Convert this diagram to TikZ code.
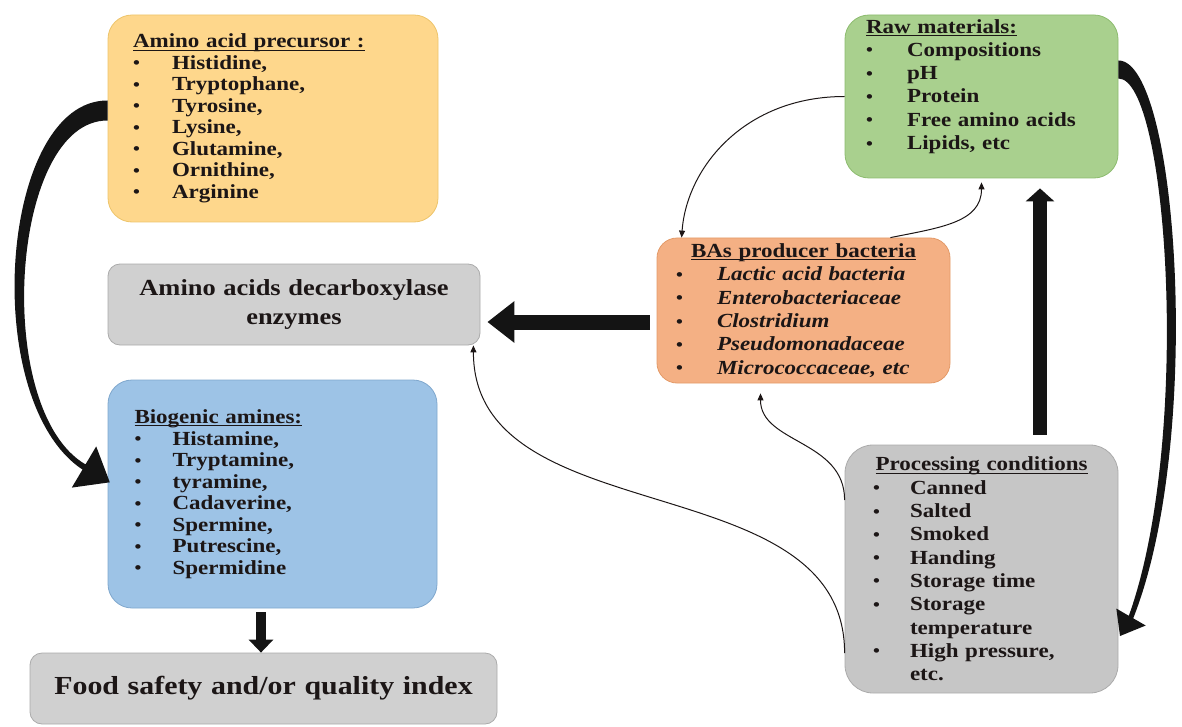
\documentclass[tikz,border=0pt]{standalone}
\usepackage{fontspec}
\setmainfont{Liberation Serif}[FakeStretch=1.15]
\usetikzlibrary{arrows.meta,calc,positioning}

\definecolor{precfill}{HTML}{FED78C}
\definecolor{precdraw}{HTML}{EDC46A}
\definecolor{rawfill}{HTML}{A9D08E}
\definecolor{rawdraw}{HTML}{8CBB6E}
\definecolor{bactfill}{HTML}{F4B084}
\definecolor{bactdraw}{HTML}{E39A68}
\definecolor{aminefill}{HTML}{9DC3E6}
\definecolor{aminedraw}{HTML}{7FA7CD}
\definecolor{greyfill}{HTML}{D0D0D0}
\definecolor{greydraw}{HTML}{ABABAB}
\definecolor{inkcol}{HTML}{1C1616}

\newcommand{\ul}[1]{\setbox0\hbox{#1}\rlap{\rule[-2.5pt]{\wd0}{0.9pt}}\box0}
\newcommand{\bul}{\raisebox{0.5pt}{\fontsize{17}{17}\selectfont\textbullet}}
\newcommand{\itm}[2][39pt]{\makebox[\hsize][l]{\makebox[#1][l]{\bul}#2}}
\newcommand{\cnt}[2][39pt]{\makebox[\hsize][l]{\hspace*{#1}#2}}
\newcommand{\hdl}[1]{\makebox[\hsize][l]{\ul{#1}}}
\newcommand{\hdc}[1]{\makebox[\hsize][c]{\ul{#1}}}
\newcommand{\padb}[1]{\par\vskip#1\hrule height0pt}

\tikzset{
  every node/.style={
    text=inkcol
  },
  listbox/.style n args={2}{
    shape=rectangle,
    rounded corners=24pt,
    draw=#1,
    fill=#2,
    line width=0.8pt,
    inner sep=0pt,
    align=left,
    font=\fontsize{20}{23.3}\selectfont\bfseries
  },
  greybox/.style={
    shape=rectangle,
    rounded corners=12pt,
    draw=greydraw,
    fill=greyfill,
    line width=0.8pt,
    inner sep=0pt,
    align=center
  },
  thinarrow/.style={
    draw=inkcol,
    line width=1pt,
    -{Triangle[length=7pt,width=6pt]}
  },
  fatarrow/.style n args={3}{
    draw=black!92,
    line width=#1,
    -{Triangle[length=#2,width=#3]}
  },
  bigarrow/.style={
    fill=black!92
  }
}

\begin{document}
\begin{tikzpicture}[x=1pt,y=-1pt]
  \useasboundingbox (0,0) rectangle (1182,727);

  \node[listbox={precdraw}{precfill}, minimum width=330pt, minimum height=207pt,
    text width=280pt, font=\fontsize{20}{21.5}\selectfont\bfseries] (prec) at (273,118.5) {%
    \hdl{Amino acid precursor :}\\
    \itm{Histidine,}\\
    \itm{Tryptophane,}\\
    \itm{Tyrosine,}\\
    \itm{Lysine,}\\
    \itm{Glutamine,}\\
    \itm{Ornithine,}\\
    \itm{Arginine}};

  \node[greybox, minimum width=372pt, minimum height=81pt, text width=360pt,
    font=\fontsize{23}{28.6}\selectfont\bfseries] (enz) at (294,304.5)
    {Amino acids decarboxylase\\enzymes};

  \node[listbox={aminedraw}{aminefill}, minimum width=329pt, minimum height=228pt,
    text width=276pt, font=\fontsize{20}{21.5}\selectfont\bfseries] (amines) at (272.5,494) {%
    \hdl{Biogenic amines:}\\
    \itm[38pt]{Histamine,}\\
    \itm[38pt]{Tryptamine,}\\
    \itm[38pt]{tyramine,}\\
    \itm[38pt]{Cadaverine,}\\
    \itm[38pt]{Spermine,}\\
    \itm[38pt]{Putrescine,}\\
    \itm[38pt]{Spermidine}};

  \node[greybox, minimum width=467pt, minimum height=71pt, text width=450pt,
    font=\fontsize{26}{30}\selectfont\bfseries] (food) at (263.5,688.5)
    {Food safety and/or quality index};

  \node[listbox={rawdraw}{rawfill}, minimum width=273pt, minimum height=163pt,
    text width=231pt] (raw) at (981.5,96.5) {%
    \hdl{Raw materials:}\\
    \itm[41pt]{Compositions}\\
    \itm[41pt]{pH}\\
    \itm[41pt]{Protein}\\
    \itm[41pt]{Free amino acids}\\
    \itm[41pt]{Lipids, etc}\padb{20pt}};

  \node[listbox={bactdraw}{bactfill}, minimum width=293pt, minimum height=145pt,
    text width=255pt, rounded corners=20pt] (bact) at (803.5,310.5) {%
    \hdc{BAs producer bacteria}\\
    \itm[41pt]{\textit{Lactic acid bacteria}}\\
    \itm[41pt]{\textit{Enterobacteriaceae}}\\
    \itm[41pt]{\textit{Clostridium}}\\
    \itm[41pt]{\textit{Pseudomonadaceae}}\\
    \itm[41pt]{\textit{Micrococcaceae, etc}}};

  \node[listbox={greydraw}{greyfill!95!black}, minimum width=273pt, minimum height=248pt,
    text width=217pt, rounded corners=28pt] (proc) at (981.5,569) {%
    \hdc{Processing conditions}\\
    \itm[37pt]{Canned}\\
    \itm[37pt]{Salted}\\
    \itm[37pt]{Smoked}\\
    \itm[37pt]{Handing}\\
    \itm[37pt]{Storage time}\\
    \itm[37pt]{Storage}\\
    \cnt[37pt]{temperature}\\
    \itm[37pt]{High pressure,}\\
    \cnt[37pt]{etc.}};

  \fill[bigarrow] ([yshift=18pt]prec.west) .. controls (0,100) and (-22,400) .. (82.5,469.6)
    -- (71.8,487.6) -- (109.8,482.3) -- (96.2,446.4) -- (85.5,464.4)
    .. controls (-8,410) and (10,120) .. ([yshift=-2pt]prec.west) -- cycle;
  \fill[bigarrow] ([yshift=36pt]raw.east) .. controls (1178,60) and (1204,440) .. (1133.2,618.3)
    -- (1145.7,625.5) -- (1120,636) -- (1116.3,608.5) -- (1128.8,615.8)
    .. controls (1192,440) and (1168,78) .. ([yshift=18pt]raw.east) -- cycle;

  \draw[fatarrow={15pt}{27pt}{40pt}, shorten <=7pt, shorten >=7pt]
    ([yshift=-11.5pt]bact.west) -- ([yshift=-17.5pt]enz.east);
  \draw[fatarrow={14pt}{13pt}{28pt}, shorten <=10pt, shorten >=10pt]
    ([xshift=58.5pt]proc.north) -- ([xshift=58.5pt]raw.south);
  \draw[fatarrow={10pt}{13pt}{24pt}, shorten <=4pt]
    ([xshift=-11.5pt]amines.south) -- ([xshift=-11.5pt]amines.south |- food.north);

  \draw[thinarrow] (raw.west) .. controls +(-100,0) and +(5,-70) .. ([xshift=25pt]bact.north west);
  \draw[thinarrow] ([xshift=-60pt]bact.north east) .. controls +(50,-10) and +(0,40) .. ([yshift=-4pt]raw.south);
  \draw[thinarrow] ([yshift=69pt]proc.west) .. controls +(0,-60) and +(0,50) .. ([xshift=-43pt,yshift=-10pt]bact.south);
  \draw[thinarrow] ([yshift=-84pt]proc.west) .. controls +(0,-190) and +(0,190) .. ([xshift=-7pt]enz.south east);
\end{tikzpicture}
\end{document}
